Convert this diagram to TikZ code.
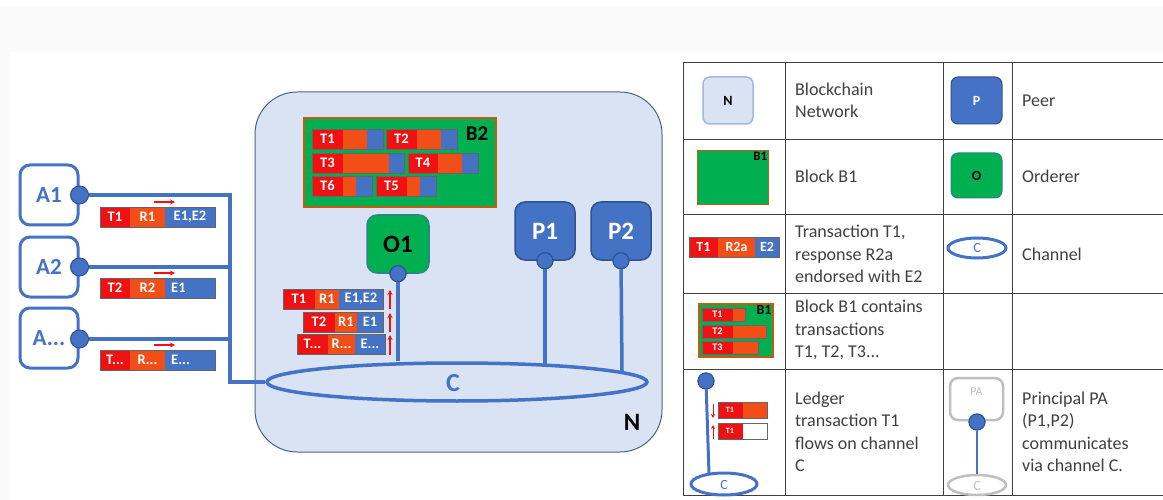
\documentclass[tikz,border=0pt]{standalone}
\usepackage{fontspec}
\setmainfont{Carlito}
\usetikzlibrary{shapes.geometric,arrows.meta}
\definecolor{cblue}{HTML}{4472C4}
\definecolor{cdkblue}{HTML}{2F528F}
\definecolor{cT}{HTML}{F01212}
\definecolor{cR}{HTML}{F24E17}
\definecolor{cgreen}{HTML}{00B050}
\definecolor{netfill}{HTML}{DAE3F3}
\definecolor{netdraw}{HTML}{4A6388}
\definecolor{obord}{HTML}{35808C}
\definecolor{bord}{HTML}{C55A11}
\definecolor{gridc}{HTML}{404040}
\definecolor{txtc}{HTML}{404040}
\definecolor{grayc}{HTML}{BFBFBF}
\definecolor{bandc}{HTML}{FAFAFA}
\newcommand{\txh}{20}
\newcommand{\txfs}{\fontsize{14.5}{14.5}\selectfont\bfseries}
% x, ytop, w1, w2, w3, l1, l2, l3
\newcommand{\txbar}[8]{%
  \fill[cT] (#1,#2) rectangle ++(#3,\txh);
  \fill[cR] (#1+#3,#2) rectangle ++(#4,\txh);
  \fill[cblue] (#1+#3+#4,#2) rectangle ++(#5,\txh);
  \draw[barline] (#1,#2) rectangle ++(#3+#4+#5,\txh);
  \node[segtxt] (tx#1y#2a) at (#1+#3/2,#2+\txh/2) {#6};
  \node[segtxt] (tx#1y#2b) at (#1+#3+#4/2,#2+\txh/2) {#7};
  \node[segtxt] (tx#1y#2c) at (#1+#3+#4+#5/2,#2+\txh/2) {#8};
}
\begin{document}
\begin{tikzpicture}[x=1pt,y=-1pt,
  barline/.style={draw=gridc!80, line width=0.8pt},
  segtxt/.style={inner sep=0pt, text=white, font=\txfs},
  abox/.style={draw=cblue, line width=3pt, fill=white, rounded corners=10pt,
    minimum width=58pt, minimum height=60pt, text=cblue, font=\fontsize{23}{23}\selectfont\bfseries},
  pbox/.style={draw=cdkblue, line width=1.5pt, fill=cblue, rounded corners=10pt,
    minimum width=60pt, minimum height=58pt, text=white, font=\fontsize{25}{25}\selectfont\bfseries},
  obox/.style={draw=obord, line width=1.5pt, fill=cgreen, rounded corners=10pt,
    minimum width=62pt, minimum height=58pt, text=black, font=\fontsize{25}{25}\selectfont\bfseries},
  port/.style={circle, fill=cblue, draw=cdkblue, line width=1pt, minimum size=16pt, inner sep=0pt},
  aport/.style={port, minimum size=18pt},
  conn/.style={draw=cblue, line width=3.5pt},
  redarr/.style={draw=cT, line width=1.4pt, -{Stealth[length=5pt,width=5pt]}},
  leg/.style={anchor=west, align=left, text=txtc, inner sep=0pt,
    font=\fontsize{18}{22.5}\selectfont},
  gridl/.style={draw=gridc, line width=1pt}
]
\useasboundingbox (0,0) rectangle (1163,500);
\fill[bandc] (0,6) rectangle (1163,52);
\fill[bandc] (0,52) rectangle (10,500);

% ---------------- network ----------------
\node[draw=netdraw, fill=netfill, line width=1pt, rounded corners=42pt,
  minimum width=407pt, minimum height=360pt] (net) at (458.5,272) {};
\node[font=\fontsize{25}{25}\selectfont\bfseries] (Nlbl) at (632,422) {N};

% block B2
\node[draw=bord, line width=1.5pt, fill=cgreen, minimum width=192pt, minimum height=89pt,
  inner sep=0pt] (B2) at (400,162.5) {};
\node[font=\fontsize{21}{21}\selectfont\bfseries] (B2lbl) at (477,134) {B2};
\txbar{312}{129}{31}{24}{16}{T1}{}{}
\txbar{386}{129}{31}{24}{16}{T2}{}{}
\txbar{312}{153}{31}{46}{15}{T3}{}{}
\txbar{408}{153}{30}{24}{16}{T4}{}{}
\txbar{312}{176}{31}{13}{16}{T6}{}{}
\txbar{376}{176}{31}{13}{16}{T5}{}{}

% channel
\node[ellipse, draw=cblue, line width=3.5pt, minimum width=380pt, minimum height=38pt,
  inner sep=0pt] (C) at (457,382) {};
\node[text=cblue, font=\fontsize{26}{26}\selectfont\bfseries] (Clbl) at (453,383) {C};

% orderer and peers
\node[obox] (O1) at (398,244) {O1};
\node[pbox] (P1) at (545,231) {P1};
\node[pbox] (P2) at (621,231) {P2};
\coordinate (p1c) at (545,365);
\coordinate (p2c) at (622,371);
\node[port] (o1p) at (O1.south) {};
\node[port] (p1p) at (P1.south) {};
\node[port] (p2p) at (P2.south) {};
\draw[conn] (o1p) -- (o1p |- C.north);
\draw[conn] (p1p) -- (p1c);
\draw[conn] (p2p) -- (p2c);
\node[port] at (o1p) {};
\node[port] at (p1p) {};
\node[port] at (p2p) {};

% transactions to orderer
\txbar{283}{289}{32}{24}{44}{T1}{R1}{E1,E2}
\txbar{303}{312}{32}{22}{26}{T2}{R1}{E1}
\txbar{297}{334}{31}{27}{30}{T...}{R...}{E...}
\draw[redarr] (390,309) -- (390,290);
\draw[redarr] (390,332) -- (390,313);
\draw[redarr] (390,355) -- (390,335);

% ---------------- applications ----------------
\node[abox] (A1) at (49,195) {A1};
\node[abox] (A2) at (49,267) {A2};
\node[abox] (A3) at (49,338) {A...};
\coordinate (j1) at (230,195);
\coordinate (j2) at (230,267);
\coordinate (j3) at (230,339);
\draw[conn] (A1.east) -- (j1) |- (C.west);
\draw[conn] (A2.east) -- (j2);
\draw[conn] (A3.east |- j3) -- (j3);
\node[aport] (a1p) at (A1.east) {};
\node[aport] (a2p) at (A2.east) {};
\node[aport] (a3p) at (A3.east |- j3) {};

\txbar{100}{207}{30}{35}{50}{T1}{R1}{E1,E2}
\txbar{100}{278}{30}{35}{50}{T2}{R2}{}
\txbar{100}{350}{30}{35}{50}{T...}{R...}{}
\node[segtxt, anchor=west] (e2lbl) at (171,288) {E1};
\node[segtxt, anchor=west] (e3lbl) at (171,360) {E...};
\draw[redarr] (154,202) -- (175,202);
\draw[redarr] (154,273) -- (175,273);
\draw[redarr] (154,345) -- (175,345);

% ---------------- legend ----------------
\fill[white] (683,63) rectangle (1163,495);
\draw[gridl] (683,63) -- (1163,63);
\draw[gridl] (683,140) -- (1163,140);
\draw[gridl] (683,215) -- (1163,215);
\draw[gridl] (683,293) -- (1163,293);
\draw[gridl] (683,369) -- (1163,369);
\draw[gridl] (683,495) -- (1163,495);
\draw[gridl] (683,63) -- (683,495);
\draw[gridl] (785,63) -- (785,495);
\draw[gridl] (943,63) -- (943,495);
\draw[gridl] (1012,63) -- (1012,495);

% row 1
\node[draw=cblue!50, fill=netfill, line width=1.5pt, rounded corners=7pt,
  minimum width=50pt, minimum height=47pt, font=\fontsize{14}{14}\selectfont\bfseries] (lN) at (728,100.5) {N};
\node[leg] (tN) at (795,100.5) {Blockchain\\Network};
\node[draw=cdkblue, fill=cblue, line width=1pt, rounded corners=7pt, text=white,
  minimum width=51pt, minimum height=47pt, font=\fontsize{14}{14}\selectfont\bfseries] (lP) at (976.5,100.5) {P};
\node[leg] (tP) at (1022,101) {Peer};

% row 2
\node[draw=bord, fill=cgreen, line width=1pt, minimum width=71pt, minimum height=54pt,
  inner sep=0pt] (lB) at (732.5,178) {};
\node[anchor=north east, inner sep=1pt, font=\fontsize{13}{13}\selectfont\bfseries] (lBl) at (lB.north east) {B1};
\node[leg] (tB) at (795,176) {Block B1};
\node[draw=obord, fill=cgreen, line width=1pt, rounded corners=7pt,
  minimum width=51pt, minimum height=45pt, font=\fontsize{14}{14}\selectfont\bfseries] (lO) at (976.5,175.5) {O};
\node[leg] (tO) at (1022,176) {Orderer};

% row 3
\renewcommand{\txfs}{\fontsize{14}{14}\selectfont\bfseries}
\txbar{689}{237}{29}{37}{24}{T1}{R2a}{E2}
\node[leg] (tT) at (795,254) {Transaction T1,\\response R2a\\endorsed with E2};
\node[ellipse, draw=cblue, line width=3pt, minimum width=58pt, minimum height=20pt,
  inner sep=0pt] (lC) at (977,248) {};
\node[text=cblue, font=\fontsize{14}{14}\selectfont] (lCl) at (977,248) {C};
\node[leg] (tC) at (1022,254) {Channel};

% row 4
\node[draw=bord, fill=cgreen, line width=1.5pt, minimum width=74pt, minimum height=53pt,
  inner sep=0pt] (lB2) at (736,330.5) {};
\node[anchor=north east, inner sep=2pt, font=\fontsize{14}{14}\selectfont\bfseries] (lB2l) at (lB2.north east) {B1};
\renewcommand{\txh}{13}
\renewcommand{\txfs}{\fontsize{10}{10}\selectfont\bfseries}
\txbar{702}{308}{31}{12}{0.01}{T1}{}{}
\txbar{702}{325}{31}{33}{0.01}{T2}{}{}
\txbar{702}{341}{31}{25}{0.01}{T3}{}{}
\node[leg] (tB2) at (795,330) {Block B1 contains\\transactions\\T1, T2, T3...};

% row 5: ledger
\node[ellipse, draw=cblue, line width=3pt, minimum width=66pt, minimum height=22pt,
  inner sep=0pt] (lC2) at (724,484) {};
\node[text=cblue, font=\fontsize{14}{14}\selectfont] (lC2l) at (724,485) {C};
\coordinate (lc2t) at (709,474);
\node[port] (lport) at (706,381) {};
\draw[conn, line width=3pt] (lport) -- (lc2t);
\node[port] at (lport) {};
\renewcommand{\txfs}{\fontsize{8}{8}\selectfont\bfseries}
\fill[cT] (718,402) rectangle (743,418);
\fill[cR] (743,402) rectangle (767,418);
\draw[barline] (718,402) rectangle (767,418);
\node[segtxt, font=\txfs] (lt1) at (730,410) {T1};
\fill[cT] (718,423) rectangle (743,439);
\fill[white] (743,423) rectangle (767,439);
\draw[barline] (718,423) rectangle (767,439);
\node[segtxt, font=\txfs] (lt2) at (730,431) {T1};
\draw[redarr, line width=1pt, -{Stealth[length=4pt,width=4pt]}] (713,404) -- (713,418);
\draw[redarr, line width=1pt, -{Stealth[length=4pt,width=4pt]}] (713,439) -- (713,425);
\node[leg] (tL) at (795,432) {Ledger\\transaction T1\\flows on channel\\C};

% row 5: principal
\node[draw=grayc, line width=2.5pt, fill=white, rounded corners=8pt,
  minimum width=53pt, minimum height=42pt] (lPA) at (976.5,399) {};
\node[text=grayc, font=\fontsize{12}{12}\selectfont] (lPAl) at (976.5,392) {PA};
\node[ellipse, draw=grayc, line width=2.5pt, minimum width=58pt, minimum height=20pt,
  inner sep=0pt] (lC3) at (977,485) {};
\node[text=grayc, font=\fontsize{14}{14}\selectfont] (lC3l) at (977,486) {C};
\node[port] (lpp) at (977,422) {};
\draw[conn, line width=2.5pt] (lpp) -- (lC3.north);
\node[port] at (lpp) {};
\node[leg] (tPA) at (1022,432) {Principal PA\\(P1,P2)\\communicates\\via channel C.};
\end{tikzpicture}
\end{document}
